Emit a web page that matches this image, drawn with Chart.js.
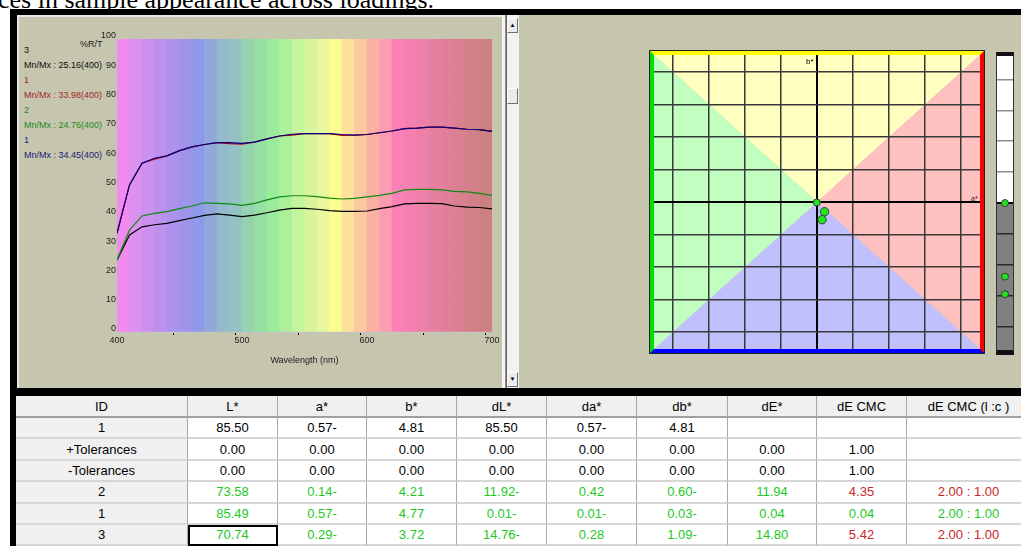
<!DOCTYPE html>
<html>
<head>
<meta charset="utf-8">
<script src="https://cdn.jsdelivr.net/npm/chart.js@4.4.0/dist/chart.umd.min.js"></script>
<style>
body{margin:0;width:1021px;height:546px;overflow:hidden;background:#fff;position:relative;font-family:"Liberation Sans",Arial,sans-serif}
.a{position:absolute}
#caption{left:-2px;top:-13px;font:26px/26px "Liberation Serif","Times New Roman",serif;color:#000;white-space:nowrap}
#frame{left:10px;top:9px;width:1011px;height:387px;background:#000}
#leftStrip{left:10px;top:396px;width:6px;height:150px;background:#000}
#leftPanel{left:17px;top:15px;height:373px;background:#c5c6ad;border-top:2px solid #e6e6e6;border-left:2px solid #e6e6e6;box-sizing:border-box;width:487px}
#rightPanel{left:519px;top:15px;width:502px;height:373px;background:#c5c6ad}
#sbGap{left:502px;top:15px;width:4px;height:373px;background:#f4f4f4;border-right:1px solid #909090;box-sizing:border-box}
#sbTrack{left:506px;top:15px;width:13px;height:373px;background:#f2f2f2;border-left:1px solid #606060;box-sizing:border-box}
.btn{width:11px;background:#ececec;border:1px solid;border-color:#fff #707070 #707070 #fff;box-sizing:border-box;font-size:6px;line-height:13px;text-align:center;color:#000}
#legend{left:24px;top:43px;width:89px;height:125px;overflow:hidden;font-size:9px;line-height:15px;white-space:nowrap}
.tiny{font-size:8px;color:#222;white-space:nowrap}
#abFrame{left:650px;top:51px;width:326px;height:294px;border-style:solid;border-width:4px;border-color:#ffff00 #ff0000 #0000ff #00e000;outline:1px solid #222}
#lFrame{left:996px;top:52px;width:16px;height:294px;border-style:solid;border-color:#111 #333 #111 #333;border-width:4px 1px 5px 1px}
#tbl{left:16px;top:396px;display:grid;grid-template-columns:172px 90px 89px 90px 90px 90px 91px 89px 90px 124px;grid-template-rows:22px repeat(6,21.4px);font-size:13px}
#tbl div{border-right:1px solid #a8a8a8;border-bottom:2px solid #d6d6d6;display:flex;align-items:center;justify-content:center;white-space:nowrap;overflow:hidden;box-sizing:border-box;background:#fff}
#tbl div.h{background:#f0f0f0;border-bottom:2px solid #a0a0a0}
#tbl div.id{background:#f0f0f0}
#tbl div.focus{outline:2px solid #000;outline-offset:-2px}
</style>
</head>
<body>
<div id="caption" class="a">ces in sample appearance across loadings.</div>
<div id="frame" class="a"></div>
<div id="leftStrip" class="a"></div>
<div id="leftPanel" class="a"></div>
<div id="rightPanel" class="a"></div>
<div id="sbGap" class="a"></div>
<div id="sbTrack" class="a"></div>
<div class="a btn" style="left:507px;top:18px;height:15px">&#9650;</div>
<div class="a btn" style="left:507px;top:88px;height:16px"></div>
<div class="a btn" style="left:507px;top:372px;height:15px">&#9660;</div>

<div id="legend" class="a"></div>
<div class="a tiny" style="left:80px;top:39px;font-size:9px">%R/T</div>
<canvas id="spec" class="a" style="left:19px;top:17px" width="483" height="371"></canvas>

<div id="abFrame" class="a"><canvas id="ab" width="326" height="294"></canvas></div>
<div class="a tiny" style="left:806px;top:57px;font-size:8px;color:#000">b*</div>
<div class="a tiny" style="left:971px;top:195px;font-size:7px">a*</div>
<div id="lFrame" class="a"><canvas id="lbar" width="16" height="294"></canvas></div>

<div id="tbl" class="a"></div>

<script>
// ---- spectral curves (% R/T) ----
const wavelengths = [400,410,420,430,440,450,460,470,480,490,500,510,520,530,540,550,560,570,580,590,600,610,620,630,640,650,660,670,680,690,700];
const sample3  = [24.5,33.1,35.9,36.6,37.1,38.0,38.9,39.8,40.3,39.9,39.4,39.9,40.7,41.6,42.2,42.2,41.9,41.4,41.2,41.2,41.3,42.1,42.8,43.7,43.9,43.9,43.8,43.0,42.6,42.5,42.0];
const sample1a = [33.7,50.2,57.6,59.0,60.1,61.9,63.2,64.0,64.6,64.3,64.1,64.8,65.9,66.9,67.2,67.7,67.7,67.7,67.1,67.2,67.4,68.0,68.6,69.4,69.6,69.9,69.9,69.6,69.2,69.1,68.5];
const sample2  = [24.6,34.8,39.6,40.5,41.1,42.1,43.0,44.1,43.9,43.7,43.2,43.9,45.1,46.1,46.5,46.5,46.2,45.7,45.4,45.6,46.1,46.6,47.3,48.5,48.7,48.7,48.5,48.0,47.8,47.3,46.6];
const sample1b = [33.7,50.2,57.6,59.3,60.1,61.9,63.2,64.0,64.6,64.6,64.4,64.8,65.9,66.9,67.5,67.7,67.7,67.7,67.4,67.2,67.4,68.0,68.6,69.4,69.6,69.9,69.9,69.6,69.2,69.1,68.5];

// spectrum background bands (centre of every 10 nm band)
const bandCenters = [405,415,425,435,445,455,465,475,485,495,505,515,525,535,545,555,565,575,585,595,605,615,625,635,645,655,665,675,685,695];
const bandColors = ['#f08cf0','#dc90f0','#cc90ee','#bc90ec','#ac92ec','#9e94ea','#9098ea','#90a8dc','#94b8cc','#94c2c4','#94d2b0','#96e0a4','#98ec9c','#acf09c','#c4f49c','#d8f49c','#e8f69c','#fcfc90','#fce09c','#fcc8a0','#fcb0a4','#fc9cb0','#fc80b8','#f480b0','#ec80a8','#e480a0','#e08098','#d88090','#d48088','#cc8080'];

const legendItems = [
  {id:'3', mnmx:'Mn/Mx : 25.16(400)', color:'#101010'},
  {id:'1', mnmx:'Mn/Mx : 33.98(400)', color:'#a02828'},
  {id:'2', mnmx:'Mn/Mx : 24.76(400)', color:'#1c8c1c'},
  {id:'1', mnmx:'Mn/Mx : 34.45(400)', color:'#20207c'}
];

// ---- colour differences ----
const sampleIds = ['2','1','3'];
const daValues = [0.42,-0.01,0.28];
const dbValues = [-0.60,-0.03,-1.09];
const dLValues = [-11.92,-0.01,-14.76];

// ---- table ----
const headers = ['ID','L*','a*','b*','dL*','da*','db*','dE*','dE CMC','dE CMC (l :c )'];
const rows = [
  ['1','85.50','0.57-','4.81','85.50','0.57-','4.81','','',''],
  ['+Tolerances','0.00','0.00','0.00','0.00','0.00','0.00','0.00','1.00',''],
  ['-Tolerances','0.00','0.00','0.00','0.00','0.00','0.00','0.00','1.00',''],
  ['2','73.58','0.14-','4.21','11.92-','0.42','0.60-','11.94','4.35','2.00 : 1.00'],
  ['1','85.49','0.57-','4.77','0.01-','0.01-','0.03-','0.04','0.04','2.00 : 1.00'],
  ['3','70.74','0.29-','3.72','14.76-','0.28','1.09-','14.80','5.42','2.00 : 1.00']
];
const passFail = [null,null,null,'fail','pass','fail'];

// legend text
const lg = document.getElementById('legend');
legendItems.forEach(it=>{
  lg.insertAdjacentHTML('beforeend','<div style="color:'+it.color+'">'+it.id+'</div><div style="color:'+it.color+'">'+it.mnmx+'</div>');
});

// table
const tbl = document.getElementById('tbl');
headers.forEach(h=>tbl.insertAdjacentHTML('beforeend','<div class="h">'+h+'</div>'));
rows.forEach((r,ri)=>{
  r.forEach((c,ci)=>{
    let col = '#000';
    if(passFail[ri]){
      col = '#1ec81e';
      if(ci>=8 && passFail[ri]==='fail') col = '#c82828';
    }
    if(ci===0) col = '#000';
    let cls = ci===0 ? 'id' : '';
    if(ri===5 && ci===1) cls = 'focus';
    tbl.insertAdjacentHTML('beforeend','<div class="'+cls+'" style="color:'+col+'">'+c+'</div>');
  });
});

const xy = vals => wavelengths.map((w,i)=>({x:w,y:vals[i]}));
const line = (vals,color,order) => ({type:'line',data:xy(vals),borderColor:color,borderWidth:1.2,pointRadius:0,tension:0,order});

new Chart(document.getElementById('spec'),{
  type:'line',
  data:{datasets:[
    line(sample1b,'#000080',0),
    line(sample2,'#108a10',1),
    line(sample3,'#000000',2),
    line(sample1a,'#c00000',3),
    {type:'bar',data:bandCenters.map(c=>({x:c,y:100})),backgroundColor:bandColors,borderWidth:0,barPercentage:1,categoryPercentage:1,order:10}
  ]},
  options:{
    responsive:false,animation:false,
    layout:{autoPadding:false,padding:{top:22,right:10,left:0,bottom:0}},
    plugins:{legend:{display:false},tooltip:{enabled:false}},
    scales:{
      x:{type:'linear',min:400,max:700,offset:false,z:1,
        grid:{color:'#c4c4c4',lineWidth:1,tickLength:3,tickColor:c=>c.tick && c.tick.value%50===0?'#000':'rgba(0,0,0,0)'},
        border:{display:false},
        ticks:{stepSize:10,autoSkip:false,maxRotation:0,padding:0,color:'#222',font:{size:9,family:'Liberation Sans'},callback:v=>v%100===0?v:''},
        title:{display:true,text:'Wavelength (nm)',color:'#222',font:{size:9,family:'Liberation Sans'},padding:{top:0,bottom:22}},
        afterFit:s=>{s.height=56}
      },
      y:{min:0,max:100,z:1,
        grid:{color:'#c4c4c4',lineWidth:1,drawTicks:false},
        border:{display:false},
        ticks:{stepSize:10,padding:1,labelOffset:-3,color:'#222',font:{size:9,family:'Liberation Sans'}},
        afterFit:s=>{s.width=98}
      }
    }
  }
});

// a*b* diagram
const quadrants = {
  id:'quadrants',
  beforeDraw(chart){
    const {ctx,chartArea:{left,top,right,bottom},scales:{x,y}} = chart;
    const cx = x.getPixelForValue(0), cy = y.getPixelForValue(0);
    const tri = (x1,y1,x2,y2,c)=>{ctx.beginPath();ctx.moveTo(cx,cy);ctx.lineTo(x1,y1);ctx.lineTo(x2,y2);ctx.closePath();ctx.fillStyle=c;ctx.fill();};
    ctx.save();
    tri(left,top,right,top,'#ffffc0');
    tri(right,top,right,bottom,'#ffc0c0');
    tri(right,bottom,left,bottom,'#c0c0ff');
    tri(left,bottom,left,top,'#c0ffc0');
    ctx.restore();
  }
};
const gridTicks = vals => s => { s.ticks = vals.map(v=>({value:v})); };
const hiddenAxis = (min,max,ticks,dark) => ({
  min,max,
  grid:{drawTicks:false,color:c=>c.tick.value===0?'#000':dark(c.tick.value),lineWidth:c=>c.tick.value===0?2:1.5},
  border:{display:false},
  ticks:{display:false},
  afterBuildTicks:gridTicks(ticks),
  afterFit:s=>{s.width=0;s.height=0}
});
const abTicks = [-8,-6,-4,-2,0,2,4,6,8];
new Chart(document.getElementById('ab'),{
  type:'scatter',
  data:{datasets:[{
    data:daValues.map((a,i)=>({x:a,y:dbValues[i]})),
    pointRadius:[4.2,3.5,4.2],pointBackgroundColor:'#1ee61e',pointBorderColor:'#3c3c3c',pointBorderWidth:1
  }]},
  options:{
    responsive:false,animation:false,
    layout:{autoPadding:false,padding:0},
    plugins:{legend:{display:false},tooltip:{enabled:false}},
    scales:{
      x:hiddenAxis(-9.05,9.05,abTicks,()=>'#383838'),
      y:hiddenAxis(-9.05,9.05,abTicks,()=>'#383838')
    }
  },
  plugins:[quadrants]
});

// lightness bar
const lightBg = {
  id:'lightBg',
  beforeDraw(chart){
    const {ctx,chartArea:{left,top,right,bottom},scales:{y}} = chart;
    const cy = y.getPixelForValue(0);
    ctx.save();
    ctx.fillStyle='#ffffff';ctx.fillRect(left,top,right-left,cy-top);
    ctx.fillStyle='#808080';ctx.fillRect(left,cy,right-left,bottom-cy);
    ctx.restore();
  }
};
new Chart(document.getElementById('lbar'),{
  type:'scatter',
  data:{datasets:[{
    data:dLValues.map(v=>({x:0,y:v})),
    pointRadius:3.5,pointBackgroundColor:'#1ee61e',pointBorderColor:'#3c3c3c',pointBorderWidth:1
  }]},
  options:{
    responsive:false,animation:false,
    layout:{autoPadding:false,padding:0},
    plugins:{legend:{display:false},tooltip:{enabled:false}},
    scales:{
      x:{min:-1,max:1,display:false},
      y:hiddenAxis(-23.8,23.8,[-20,-15,-10,-5,0,5,10,15,20],v=>v>0?'#8c8c8c':'#2a2a2a')
    }
  },
  plugins:[lightBg]
});
</script>
</body>
</html>
